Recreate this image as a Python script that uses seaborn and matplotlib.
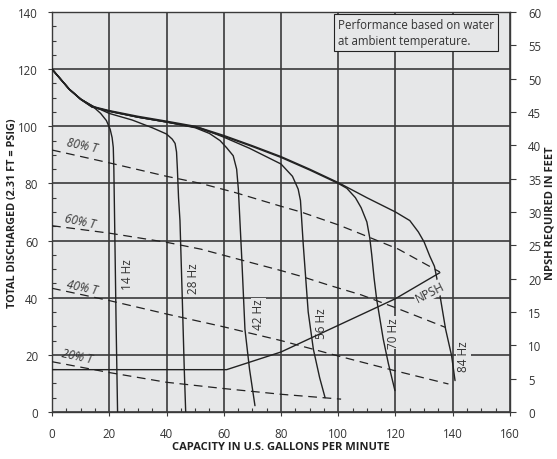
import numpy as np
import pandas as pd
import matplotlib
matplotlib.use('Agg')
import matplotlib.pyplot as plt
from matplotlib.ticker import MultipleLocator
import seaborn as sns

# head curves (gpm, head)
hz14_gpm = [0, 3, 6, 10, 14, 17, 19, 20.3, 21, 21.4, 21.6, 22, 22.4, 22.9]
hz14_head = [120, 116.5, 113, 109.5, 107.2, 104.5, 102, 99, 96, 92.6, 85, 58, 30, 0]

hz28_gpm = [0, 3, 6, 10, 14, 20, 28, 35, 40, 42, 43, 43.5, 43.8, 44.2, 44.7, 45.5, 46.2, 46.7]
hz28_head = [120, 116.5, 113, 109.5, 107.2, 104.5, 102.2, 99.5, 97.3, 95.5, 94, 91, 85, 75, 67, 40, 15, 0]

hz42_gpm = [0, 3, 6, 10, 14, 20, 30, 40, 50, 55, 58.7, 61, 63.3, 64.5, 65.1, 66.3, 67.4, 69, 70.9]
hz42_head = [120, 116.5, 113, 109.5, 106.8, 105.3, 103.2, 101.5, 99.5, 97.5, 95, 92.5, 89.7, 85, 78, 53.6, 29, 15, 2.2]

hz56_gpm = [0, 3, 6, 10, 14, 20, 30, 40, 52, 60, 69, 80, 84, 86, 86.8, 87.2, 87.8, 89.5, 91.3, 93.5, 95.4]
hz56_head = [120, 116.5, 113, 109.5, 106.8, 105.3, 103.2, 101.5, 99.3, 96.2, 92.3, 86.8, 82.5, 78, 74, 67.6, 58.2, 35, 22, 12, 5]

hz70_gpm = [0, 3, 6, 10, 14, 20, 30, 40, 50, 60, 70, 80, 90, 100, 103, 106, 108, 110, 111,
            111.7, 112.5, 113.4, 115.7, 117.5, 119.8]
hz70_head = [120, 116.5, 113, 109.4, 106.7, 105.2, 103.2, 101.5, 99.7, 96.5, 92.9, 89.1, 84.7, 80,
             78.3, 75, 71.5, 66.5, 61, 55, 47, 39.6, 25.6, 17, 7.5]

hz84_gpm = [0, 3, 6, 10, 14, 20, 30, 40, 50, 60, 70, 80, 90, 100, 110, 120, 125, 128, 130, 132,
            133.6, 135, 136, 137.5, 139.6, 140.8]
hz84_head = [120, 116.5, 113, 109.6, 107, 105.5, 103.5, 101.8, 100, 96.8, 93.2, 89.4, 85, 80.3,
             75, 70, 67, 63, 59.5, 54.5, 51, 44, 38, 29, 19.7, 11]

# constant torque lines
t80_gpm = [0, 20, 40, 52, 64, 80, 87, 100, 108, 121, 135.5]
t80_head = [91.7, 87.2, 82.5, 80, 76.8, 72, 70, 65.5, 62.3, 57, 49]
t60_gpm = [0, 20, 40, 52, 65, 80, 87, 97, 108, 120, 137.5]
t60_head = [65.2, 62.6, 59.4, 57, 53.5, 49.5, 47.5, 44.3, 41, 36.5, 29.6]
t40_gpm = [0, 20, 40, 60, 80, 100, 120, 138.5]
t40_head = [43.3, 39, 34.3, 29.8, 25, 19.6, 14.4, 9.8]
t20_gpm = [0, 20, 40, 60, 80, 101]
t20_head = [17.6, 13.8, 10.4, 8.2, 6.2, 4.5]

# NPSH required (feet, right axis)
npsh_gpm = [0, 61, 80, 91, 100, 120, 135.5]
npsh_ft = [6.35, 6.35, 9.0, 11.2, 13.0, 17.0, 20.9]

hz_curves = {
    '14 Hz': (hz14_gpm, hz14_head),
    '28 Hz': (hz28_gpm, hz28_head),
    '42 Hz': (hz42_gpm, hz42_head),
    '56 Hz': (hz56_gpm, hz56_head),
    '70 Hz': (hz70_gpm, hz70_head),
    '84 Hz': (hz84_gpm, hz84_head),
}
torque_lines = {
    '80% T': (t80_gpm, t80_head),
    '60% T': (t60_gpm, t60_head),
    '40% T': (t40_gpm, t40_head),
    '20% T': (t20_gpm, t20_head),
}

# label positions (gpm, head)
hz_label_pos = {'14 Hz': (26.5, 48.6), '28 Hz': (49.4, 46.9), '42 Hz': (72.1, 34.3),
                '56 Hz': (94.2, 31.2), '70 Hz': (119.2, 27.7), '84 Hz': (143.7, 19.8)}
t_label_pos = {'80% T': (10.6, 93.4), '60% T': (9.8, 66.9), '40% T': (10.6, 43.9), '20% T': (8.9, 19.8)}

sns.set_style("ticks")
plt.rcParams['font.family'] = ['Open Sans', 'DejaVu Sans']
bg = '#e6e7e8'
ink = '#222222'
txt = '#333333'

fig, ax = plt.subplots(figsize=(5.57, 4.6), dpi=100)
fig.subplots_adjust(left=0.0934, right=0.9156, top=0.9717, bottom=0.1022)
ax.set_facecolor(bg)

for name, (g, h) in hz_curves.items():
    df = pd.DataFrame({'gpm': g, 'head': h})
    sns.lineplot(data=df, x='gpm', y='head', ax=ax, color=ink, lw=1.0,
                 sort=False, estimator=None, zorder=3)

for name, (g, h) in torque_lines.items():
    df = pd.DataFrame({'gpm': g, 'head': h})
    sns.lineplot(data=df, x='gpm', y='head', ax=ax, color=ink, lw=0.9,
                 linestyle=(0, (7, 4.5)), sort=False, estimator=None, zorder=3)

ax.set_xlim(0, 160)
ax.set_ylim(0, 140)
ax.xaxis.set_major_locator(MultipleLocator(20))
ax.xaxis.set_minor_locator(MultipleLocator(5))
ax.yaxis.set_major_locator(MultipleLocator(20))
ax.yaxis.set_minor_locator(MultipleLocator(5))
ax.grid(True, which='major', color='#3a3a3a', lw=1.2, zorder=1)
ax.set_axisbelow(True)
for s in ax.spines.values():
    s.set_color('#3a3a3a')
    s.set_linewidth(1.0)
ax.tick_params(which='major', axis='both', direction='out', length=3, width=0.8,
               colors='#3a3a3a', labelcolor=txt, labelsize=8.3)
ax.tick_params(axis='x', which='major', pad=8)
ax.tick_params(axis='y', which='major', pad=7)
ax.tick_params(which='minor', axis='both', direction='in', length=3, width=0.8, colors='#3a3a3a')

ax2 = ax.twinx()
npsh = pd.DataFrame({'gpm': npsh_gpm, 'ft': npsh_ft})
sns.lineplot(data=npsh, x='gpm', y='ft', ax=ax2, color=ink, lw=1.0, sort=False, estimator=None)
ax2.set_ylim(0, 60)
ax2.yaxis.set_major_locator(MultipleLocator(5))
ax2.tick_params(axis='y', direction='out', length=4, width=0.8, colors='#3a3a3a',
                labelcolor=txt, labelsize=8.3, pad=9)
for s in ax2.spines.values():
    s.set_visible(False)

# labels on curves
for name, (gx, hy) in hz_label_pos.items():
    ax.text(gx, hy, name, rotation=90, ha='center', va='center', fontsize=8.5, color=txt,
            zorder=5, bbox=dict(boxstyle='square,pad=0.1', fc=bg, ec='none'))
for name, (gx, hy) in t_label_pos.items():
    ax.text(gx, hy, name, rotation=-12, ha='center', va='center', fontsize=8.5, color=txt,
            style='italic', zorder=5)
ax2.text(132, 42 * 60 / 140, 'NPSH', rotation=27, ha='center', va='center', fontsize=8.5,
         color=txt, zorder=5, bbox=dict(boxstyle='square,pad=0.1', fc=bg, ec='none'))

ax.text(0.625, 0.985, 'Performance based on water\nat ambient temperature.', transform=ax.transAxes,
        ha='left', va='top', fontsize=8.3, color=txt, linespacing=1.3, zorder=6,
        bbox=dict(boxstyle='square,pad=0.35', fc=bg, ec=ink, lw=0.8))

ax.set_xlabel('CAPACITY IN U.S. GALLONS PER MINUTE', fontsize=8, fontweight='bold', color=ink, va='center')
ax.set_ylabel('TOTAL DISCHARGED (2.31 FT = PSIG)', fontsize=7.8, fontweight='bold', color=ink, va='center')
ax2.set_ylabel('NPSH REQUIRED IN FEET', fontsize=8, fontweight='bold', color=ink, va='center')
ax.xaxis.set_label_coords(0.5, -0.0875)
ax.yaxis.set_label_coords(-0.086, 0.5)
ax2.yaxis.set_label_coords(1.088, 0.5)

fig.savefig('out.png', dpi=100)
